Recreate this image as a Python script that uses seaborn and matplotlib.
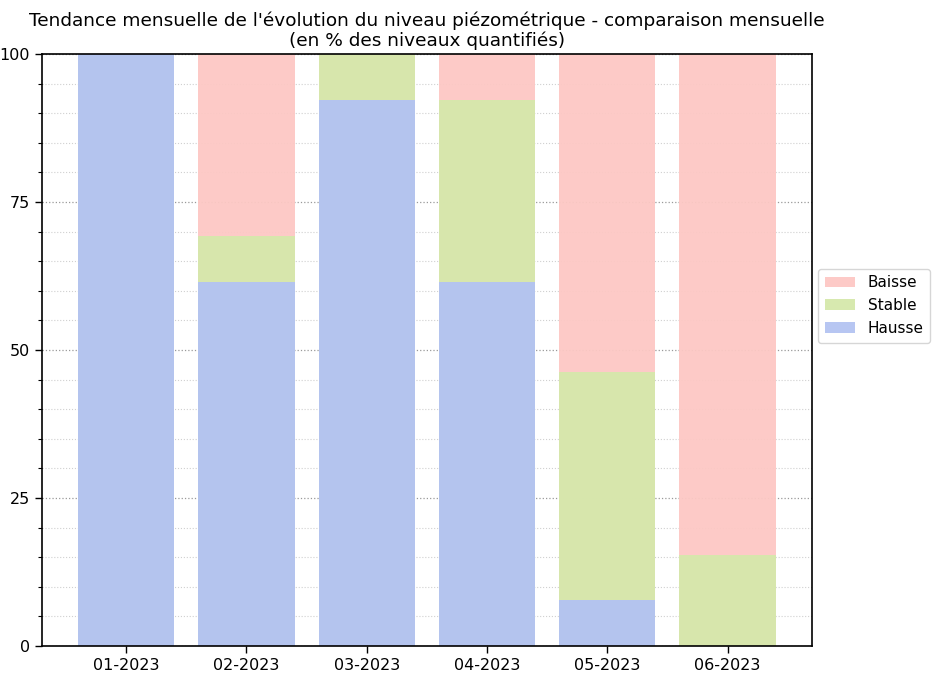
import numpy as np
import pandas as pd
import matplotlib
matplotlib.use("Agg")
import matplotlib.pyplot as plt
from matplotlib.ticker import MultipleLocator
import seaborn as sns

# Data (% of quantified levels)
months = ["01-2023", "02-2023", "03-2023", "04-2023", "05-2023", "06-2023"]
hausse = [100.0, 61.5, 92.3, 61.5, 7.7, 0.0]
stable = [0.0, 7.7, 7.7, 30.8, 38.5, 15.4]
baisse = [0.0, 30.8, 0.0, 7.7, 53.8, 84.6]

colors = {"Baisse": "#fdc8c4", "Stable": "#d5e8ab", "Hausse": "#b3c3f2"}

df = pd.DataFrame({"mois": months, "Hausse": hausse, "Stable": stable, "Baisse": baisse})
df["top_stable"] = df["Hausse"] + df["Stable"]
df["top_baisse"] = df["top_stable"] + df["Baisse"]

sns.set_style("ticks")
plt.rcParams["font.family"] = ["DejaVu Sans"]
plt.rcParams["text.color"] = "black"
plt.rcParams["xtick.color"] = "black"
plt.rcParams["ytick.color"] = "black"

fig, ax = plt.subplots(figsize=(9.33, 6.75), dpi=100)

ax.yaxis.set_major_locator(MultipleLocator(25))
ax.yaxis.set_minor_locator(MultipleLocator(5))
ax.grid(which="major", axis="y", linestyle=":", color="#999999", linewidth=0.9)
ax.grid(which="minor", axis="y", linestyle=":", color="#d0d0d0", linewidth=0.8)
ax.set_axisbelow(True)

# stacked bars drawn from the top layer down
for col, lab in [("top_baisse", "Baisse"), ("top_stable", "Stable"), ("Hausse", "Hausse")]:
    sns.barplot(data=df, x="mois", y=col, color=colors[lab], width=0.8,
                saturation=1, label=lab, ax=ax, alpha=0.95, linewidth=0)

ax.set_xlim(-0.7, 5.7)
ax.set_ylim(0, 100)
ax.set_xlabel("")
ax.set_ylabel("")
ax.tick_params(axis="both", which="major", labelsize=11.5, length=5, width=1,
               color="black", labelcolor="black")
ax.tick_params(axis="y", which="minor", length=3, width=0.8, color="black")
for s in ax.spines.values():
    s.set_color("black")
    s.set_linewidth(1.2)

ax.set_title("Tendance mensuelle de l'évolution du niveau piézométrique - comparaison mensuelle\n"
             "(en % des niveaux quantifiés)", fontsize=13.3, linespacing=1.05, color="black")

leg = ax.legend(loc="center left", bbox_to_anchor=(1.008, 0.575), fontsize=11,
                frameon=True, handlelength=2.0, handletextpad=0.8, borderaxespad=0,
                borderpad=0.45)
for t in leg.get_texts():
    t.set_color("black")

fig.subplots_adjust(left=0.045, right=0.870, top=0.92, bottom=0.043)
fig.savefig("out.png", dpi=100)
